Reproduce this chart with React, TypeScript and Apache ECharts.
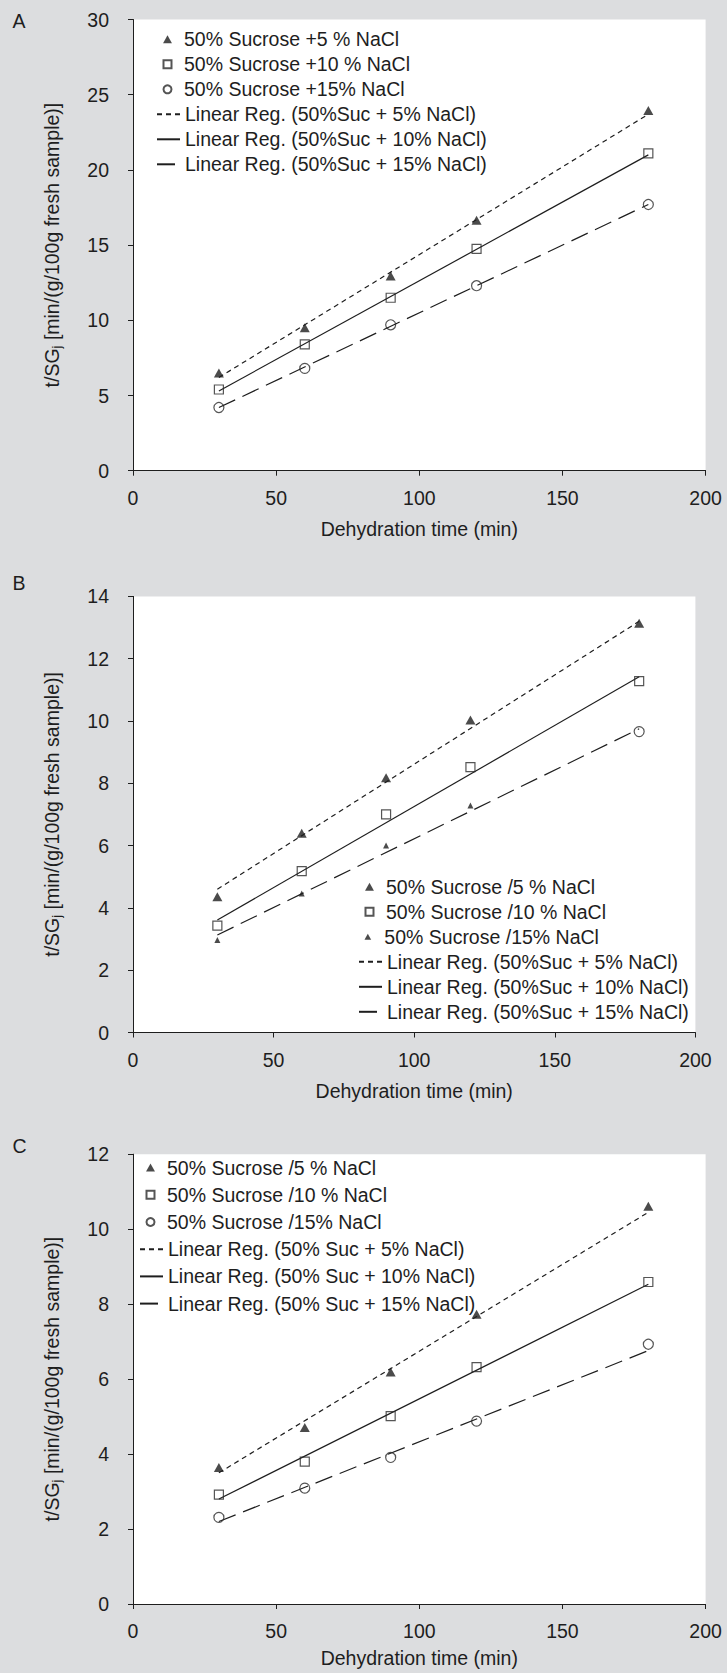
import React, { useEffect, useRef } from "react";
import * as echarts from "echarts";

// ---- data ----
const xTimes = [30, 60, 90, 120, 180];
const xFit = [30, 180];
const xTicks = { min: 0, max: 200, interval: 50 };

// Panel A
const aNames = ["50% Sucrose +5 % NaCl", "50% Sucrose +10 % NaCl", "50% Sucrose +15% NaCl"];
const aLineNames = ["Linear Reg. (50%Suc + 5% NaCl)", "Linear Reg. (50%Suc + 10% NaCl)", "Linear Reg. (50%Suc + 15% NaCl)"];
const a5 = [6.5, 9.5, 12.95, 16.65, 23.95];
const a10 = [5.4, 8.4, 11.5, 14.75, 21.1];
const a15 = [4.2, 6.8, 9.7, 12.3, 17.7];
const aFit5 = [6.2, 23.7];
const aFit10 = [5.3, 21.0];
const aFit15 = [4.2, 17.7];
const aY = { min: 0, max: 30, interval: 5 };

// Panel B
const bNames = ["50% Sucrose /5 % NaCl", "50% Sucrose /10 % NaCl", "50% Sucrose /15% NaCl"];
const bLineNames = ["Linear Reg. (50%Suc + 5% NaCl)", "Linear Reg. (50%Suc + 10% NaCl)", "Linear Reg. (50%Suc + 15% NaCl)"];
const b5 = [4.36, 6.4, 8.18, 10.03, 13.14];
const b10 = [3.43, 5.18, 7.0, 8.52, 11.28];
const b15 = [2.97, 4.46, 6.0, 7.29, 9.66];
const bFit5 = [4.6, 13.2];
const bFit10 = [3.61, 11.42];
const bFit15 = [3.13, 9.75];
const bY = { min: 0, max: 14, interval: 2 };

// Panel C
const cNames = ["50% Sucrose /5 % NaCl", "50% Sucrose /10 % NaCl", "50% Sucrose /15% NaCl"];
const cLineNames = ["Linear Reg. (50% Suc + 5% NaCl)", "Linear Reg. (50% Suc + 10% NaCl)", "Linear Reg. (50% Suc + 15% NaCl)"];
const c5 = [3.64, 4.71, 6.19, 7.73, 10.61];
const c10 = [2.92, 3.8, 5.01, 6.32, 8.59];
const c15 = [2.31, 3.09, 3.91, 4.88, 6.93];
const cFit5 = [3.5, 10.45];
const cFit10 = [2.8, 8.53];
const cFit15 = [2.2, 6.76];
const cY = { min: 0, max: 12, interval: 2 };

const xTitle = "Dehydration time (min)";
const yTitle = "t/SG{sub|j} [min/(g/100g fresh sample)]";

// ---- styles ----
const FONT = "'Liberation Sans', Arial, Helvetica, sans-serif";
const FS = 19.5;
const INK = "#1e1e1e";
const BG = "#dcdddf";
const LW = 1.2;
const TRI_ICON = "path://M5,0L10,9L0,9Z";
const RECT_ICON = "path://M0,0L9,0L9,9L0,9Z";
const MARKER_SHIFT = 6.5;

type Panel = {
  letter: string;
  letterY: number;
  height: number;
  gridTop: number;
  gridHeight: number;
  gridWidth: number;
  y: { min: number; max: number; interval: number };
  xNameGap: number;
  names: string[];
  lineNames: string[];
  m5: number[];
  m10: number[];
  m15: number[];
  f5: number[];
  f10: number[];
  f15: number[];
  legendLeft: number;
  legendTop: number;
  rowH: number;
  smallThird?: boolean;
};

const panels: Panel[] = [
  {
    letter: "A", letterY: 21, height: 560,
    gridTop: 19.5, gridHeight: 451.2, gridWidth: 572.6,
    y: aY, xNameGap: 48,
    names: aNames, lineNames: aLineNames,
    m5: a5, m10: a10, m15: a15, f5: aFit5, f10: aFit10, f15: aFit15,
    legendLeft: 156, legendTop: 26.8, rowH: 25,
  },
  {
    letter: "B", letterY: 23, height: 560,
    gridTop: 36.4, gridHeight: 436.1, gridWidth: 562.4,
    y: bY, xNameGap: 48,
    names: bNames, lineNames: bLineNames,
    m5: b5, m10: b10, m15: b15, f5: bFit5, f10: bFit10, f15: bFit15,
    legendLeft: 358, legendTop: 314.3, rowH: 25, smallThird: true,
  },
  {
    letter: "C", letterY: 25.5, height: 553,
    gridTop: 34.2, gridHeight: 451.9, gridWidth: 572.6,
    y: cY, xNameGap: 44,
    names: cNames, lineNames: cLineNames,
    m5: c5, m10: c10, m15: c15, f5: cFit5, f10: cFit10, f15: cFit15,
    legendLeft: 139, legendTop: 34, rowH: 27.2,
  },
];

const pts = (xs: number[], ys: number[]) => xs.map((x, i) => [x, ys[i]]);

function buildOption(p: Panel) {
  const hollow = { color: "rgba(0,0,0,0)", borderColor: "#2a2a2a", borderWidth: 1.2 };
  const third = p.smallThird
    ? {
        name: p.names[2], type: "scatter", symbol: "triangle", symbolSize: [6, 6],
        itemStyle: { color: INK },
        data: pts(xTimes, p.m15).map((d, i) =>
          i === xTimes.length - 1
            ? { value: d, symbol: "circle", symbolSize: 10, itemStyle: hollow }
            : d
        ),
        z: 3,
      }
    : {
        name: p.names[2], type: "scatter", symbol: "circle", symbolSize: 10,
        itemStyle: hollow, data: pts(xTimes, p.m15), z: 3,
      };

  const textBase = { fontFamily: FONT, fontSize: FS, color: INK };
  const legendCommon = {
    orient: "vertical", left: p.legendLeft, padding: 0, itemGap: 0, itemWidth: 23,
    selectedMode: false, symbolKeepAspect: true,
    textStyle: { ...textBase, lineHeight: p.rowH },
  };

  const markerItems: any[] = [
    { name: p.names[0], icon: TRI_ICON },
    { name: p.names[1], icon: RECT_ICON },
  ];
  if (!p.smallThird) markerItems.push({ name: p.names[2], icon: "circle" });

  return {
    animation: false,
    backgroundColor: BG,
    textStyle: { fontFamily: FONT },
    grid: {
      left: 133, top: p.gridTop, width: p.gridWidth, height: p.gridHeight,
      show: true, backgroundColor: "#ffffff", borderWidth: 0, containLabel: false,
    },
    xAxis: {
      type: "value", ...xTicks,
      name: xTitle, nameLocation: "middle", nameGap: p.xNameGap,
      nameTextStyle: textBase,
      axisLine: { show: true, onZero: false, lineStyle: { color: INK, width: 1 } },
      axisTick: { show: true, length: 5, inside: false, lineStyle: { color: INK } },
      axisLabel: { ...textBase, margin: 17 },
      splitLine: { show: false },
    },
    yAxis: {
      type: "value", ...p.y,
      name: yTitle, nameLocation: "middle", nameGap: 70, nameRotate: 90,
      nameTextStyle: {
        ...textBase, lineHeight: 22,
        rich: { sub: { fontFamily: FONT, fontSize: 13, color: INK, lineHeight: 13, verticalAlign: "bottom" } },
      },
      axisLine: { show: true, lineStyle: { color: INK, width: 1 } },
      axisTick: { show: true, length: 5, inside: false, lineStyle: { color: INK } },
      axisLabel: { ...textBase, margin: 24 },
      splitLine: { show: false },
    },
    legend: [
      { ...legendCommon, left: p.legendLeft + MARKER_SHIFT, top: p.legendTop, itemHeight: 8, data: markerItems },
      ...(p.smallThird
        ? [{ ...legendCommon, left: p.legendLeft + MARKER_SHIFT, top: p.legendTop + 2 * p.rowH, itemHeight: 6, data: [{ name: p.names[2], icon: TRI_ICON }] }]
        : []),
      {
        ...legendCommon, top: p.legendTop + 3 * p.rowH, itemHeight: 9, data: p.lineNames,
        itemStyle: { color: "rgba(0,0,0,0)", borderColor: "rgba(0,0,0,0)", borderWidth: 0 },
      },
    ],
    graphic: [
      {
        type: "text", x: 12.5, y: p.letterY,
        style: { text: p.letter, fontFamily: FONT, fontSize: FS, fill: INK, verticalAlign: "middle" },
      },
    ],
    series: [
      { name: p.lineNames[0], type: "line", data: pts(xFit, p.f5), symbol: "none", itemStyle: { color: INK }, lineStyle: { color: INK, width: LW, type: [5, 4] }, z: 2 },
      { name: p.lineNames[1], type: "line", data: pts(xFit, p.f10), symbol: "none", itemStyle: { color: INK }, lineStyle: { color: INK, width: LW, type: "solid" }, z: 2 },
      { name: p.lineNames[2], type: "line", data: pts(xFit, p.f15), symbol: "none", itemStyle: { color: INK }, lineStyle: { color: INK, width: LW, type: [18, 8] }, z: 2 },
      { name: p.names[0], type: "scatter", symbol: "triangle", symbolSize: [10, 9], itemStyle: { color: INK }, data: pts(xTimes, p.m5), z: 3 },
      { name: p.names[1], type: "scatter", symbol: "rect", symbolSize: 9, itemStyle: hollow, data: pts(xTimes, p.m10), z: 3 },
      third,
    ],
  };
}

function PanelChart({ p }: { p: Panel }) {
  const ref = useRef<HTMLDivElement>(null);
  useEffect(() => {
    if (!ref.current) return;
    const chart = echarts.init(ref.current, undefined, { renderer: "svg" });
    chart.setOption(buildOption(p) as any);
    return () => chart.dispose();
  }, [p]);
  return <div ref={ref} style={{ width: 727, height: p.height }} />;
}

export default function App() {
  useEffect(() => {
    document.body.style.margin = "0";
    document.body.style.background = BG;
  }, []);
  return (
    <div style={{ width: 727, height: 1673, background: BG }}>
      {panels.map((p) => (
        <PanelChart key={p.letter} p={p} />
      ))}
    </div>
  );
}
